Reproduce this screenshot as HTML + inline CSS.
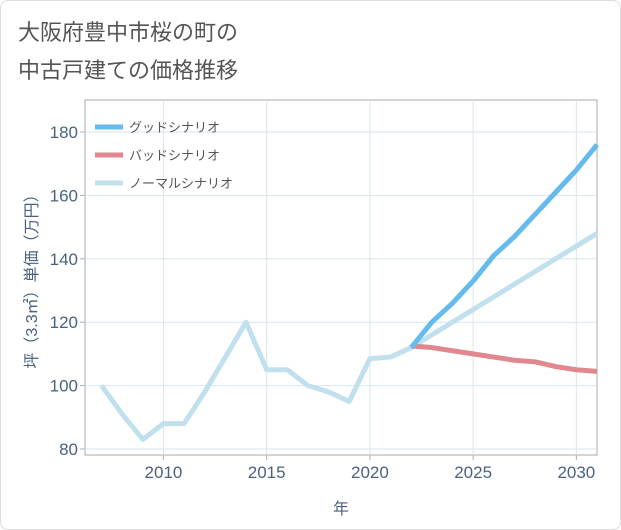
<!DOCTYPE html>
<html><head><meta charset="utf-8"><style>
body{margin:0;background:#fff;font-family:"Liberation Sans","Noto Sans CJK JP",sans-serif;}
#wrap{position:relative;width:619px;height:528px;border:1px solid #ddd;border-radius:8px;background:#fff;}
</style></head><body>
<div id="wrap">
<svg id="c" width="621" height="530" style="position:absolute;left:-1px;top:-1px">
<text x="18" y="40" font-size="22" fill="#555">大阪府豊中市桜の町の</text>
<text x="18" y="78" font-size="22" fill="#555">中古戸建ての価格推移</text>
</svg></div>
<script>
const years=[2007,2008,2009,2010,2011,2012,2013,2014,2015,2016,2017,2018,2019,2020,2021,2022,2023,2024,2025,2026,2027,2028,2029,2030,2031];
const normal=[100,91,83,88,88,98,109,120,105,105,100,98,95,108.5,109,112,116,120,124,128,132,136,140,144,148];
const futYears=[2022,2023,2024,2025,2026,2027,2028,2029,2030,2031];
const good=[112,120,126,133,141,147,154,161,168,176];
const bad=[112.5,112,111,110,109,108,107.5,106,105,104.5];
const xTicks=[2010,2015,2020,2025,2030];
const yTicks=[80,100,120,140,160,180];
const L=85,R=597,T=100,B=455,x0=2006.2,x1=2031,y0=78.1,y1=190.1;
const X=v=>L+(v-x0)/(x1-x0)*(R-L), Y=v=>B-(v-y0)/(y1-y0)*(B-T);
const svg=document.getElementById('c');const NS='http://www.w3.org/2000/svg';
const TC='#4a6280';
function mk(t,a,p){const e=document.createElementNS(NS,t);for(const k in a)e.setAttribute(k,a[k]);(p||svg).appendChild(e);return e;}
const bg=mk('rect',{x:L,y:T,width:R-L,height:B-T,fill:'#fff',stroke:'#aaa'});


xTicks.forEach(t=>{const l=mk('line',{x1:X(t),x2:X(t),y1:T,y2:B,stroke:'#d6e6f0'});


const tk=mk('line',{x1:X(t),x2:X(t),y1:B,y2:B+5,stroke:'#aac'});


const tx=mk('text',{x:X(t),y:B+23,'text-anchor':'middle','font-size':17,fill:TC});tx.textContent=t;

});
yTicks.forEach(t=>{const l=mk('line',{x1:L,x2:R,y1:Y(t),y2:Y(t),stroke:'#d6e6f0'});


const tk=mk('line',{x1:L-5,x2:L,y1:Y(t),y2:Y(t),stroke:'#aac'});


const tx=mk('text',{x:L-7,y:Y(t)+6,'text-anchor':'end','font-size':17,fill:TC});tx.textContent=t;

});
function line(xs,ys,c,n){const p=mk('polyline',{points:xs.map((x,i)=>X(x)+','+Y(ys[i])).join(' '),fill:'none',stroke:c,'stroke-width':5,'stroke-linejoin':'round'});

}
line(years,normal,'#c1e0ee','normal-line');
line(futYears,bad,'#e0878f','bad-line');
line(futYears,good,'#66bbee','good-line');
const leg=[['グッドシナリオ','#66bbee'],['バッドシナリオ','#e0878f'],['ノーマルシナリオ','#c1e0ee']];
leg.forEach((g,i)=>{const y=127+i*28;const l=mk('line',{x1:95,x2:123,y1:y,y2:y,stroke:g[1],'stroke-width':5});


const t=mk('text',{x:129,y:y+5,'font-size':13,fill:'#555'});t.textContent=g[0];

});
const xt=mk('text',{x:341,y:514,'text-anchor':'middle','font-size':16,fill:TC});xt.textContent='年';


const yt=mk('text',{x:0,y:0,'text-anchor':'middle','font-size':16,fill:TC,transform:'translate(37,'+((T+B)/2)+') rotate(-90)'});yt.textContent='坪（3.3㎡）単価（万円）';


</script></body></html>
